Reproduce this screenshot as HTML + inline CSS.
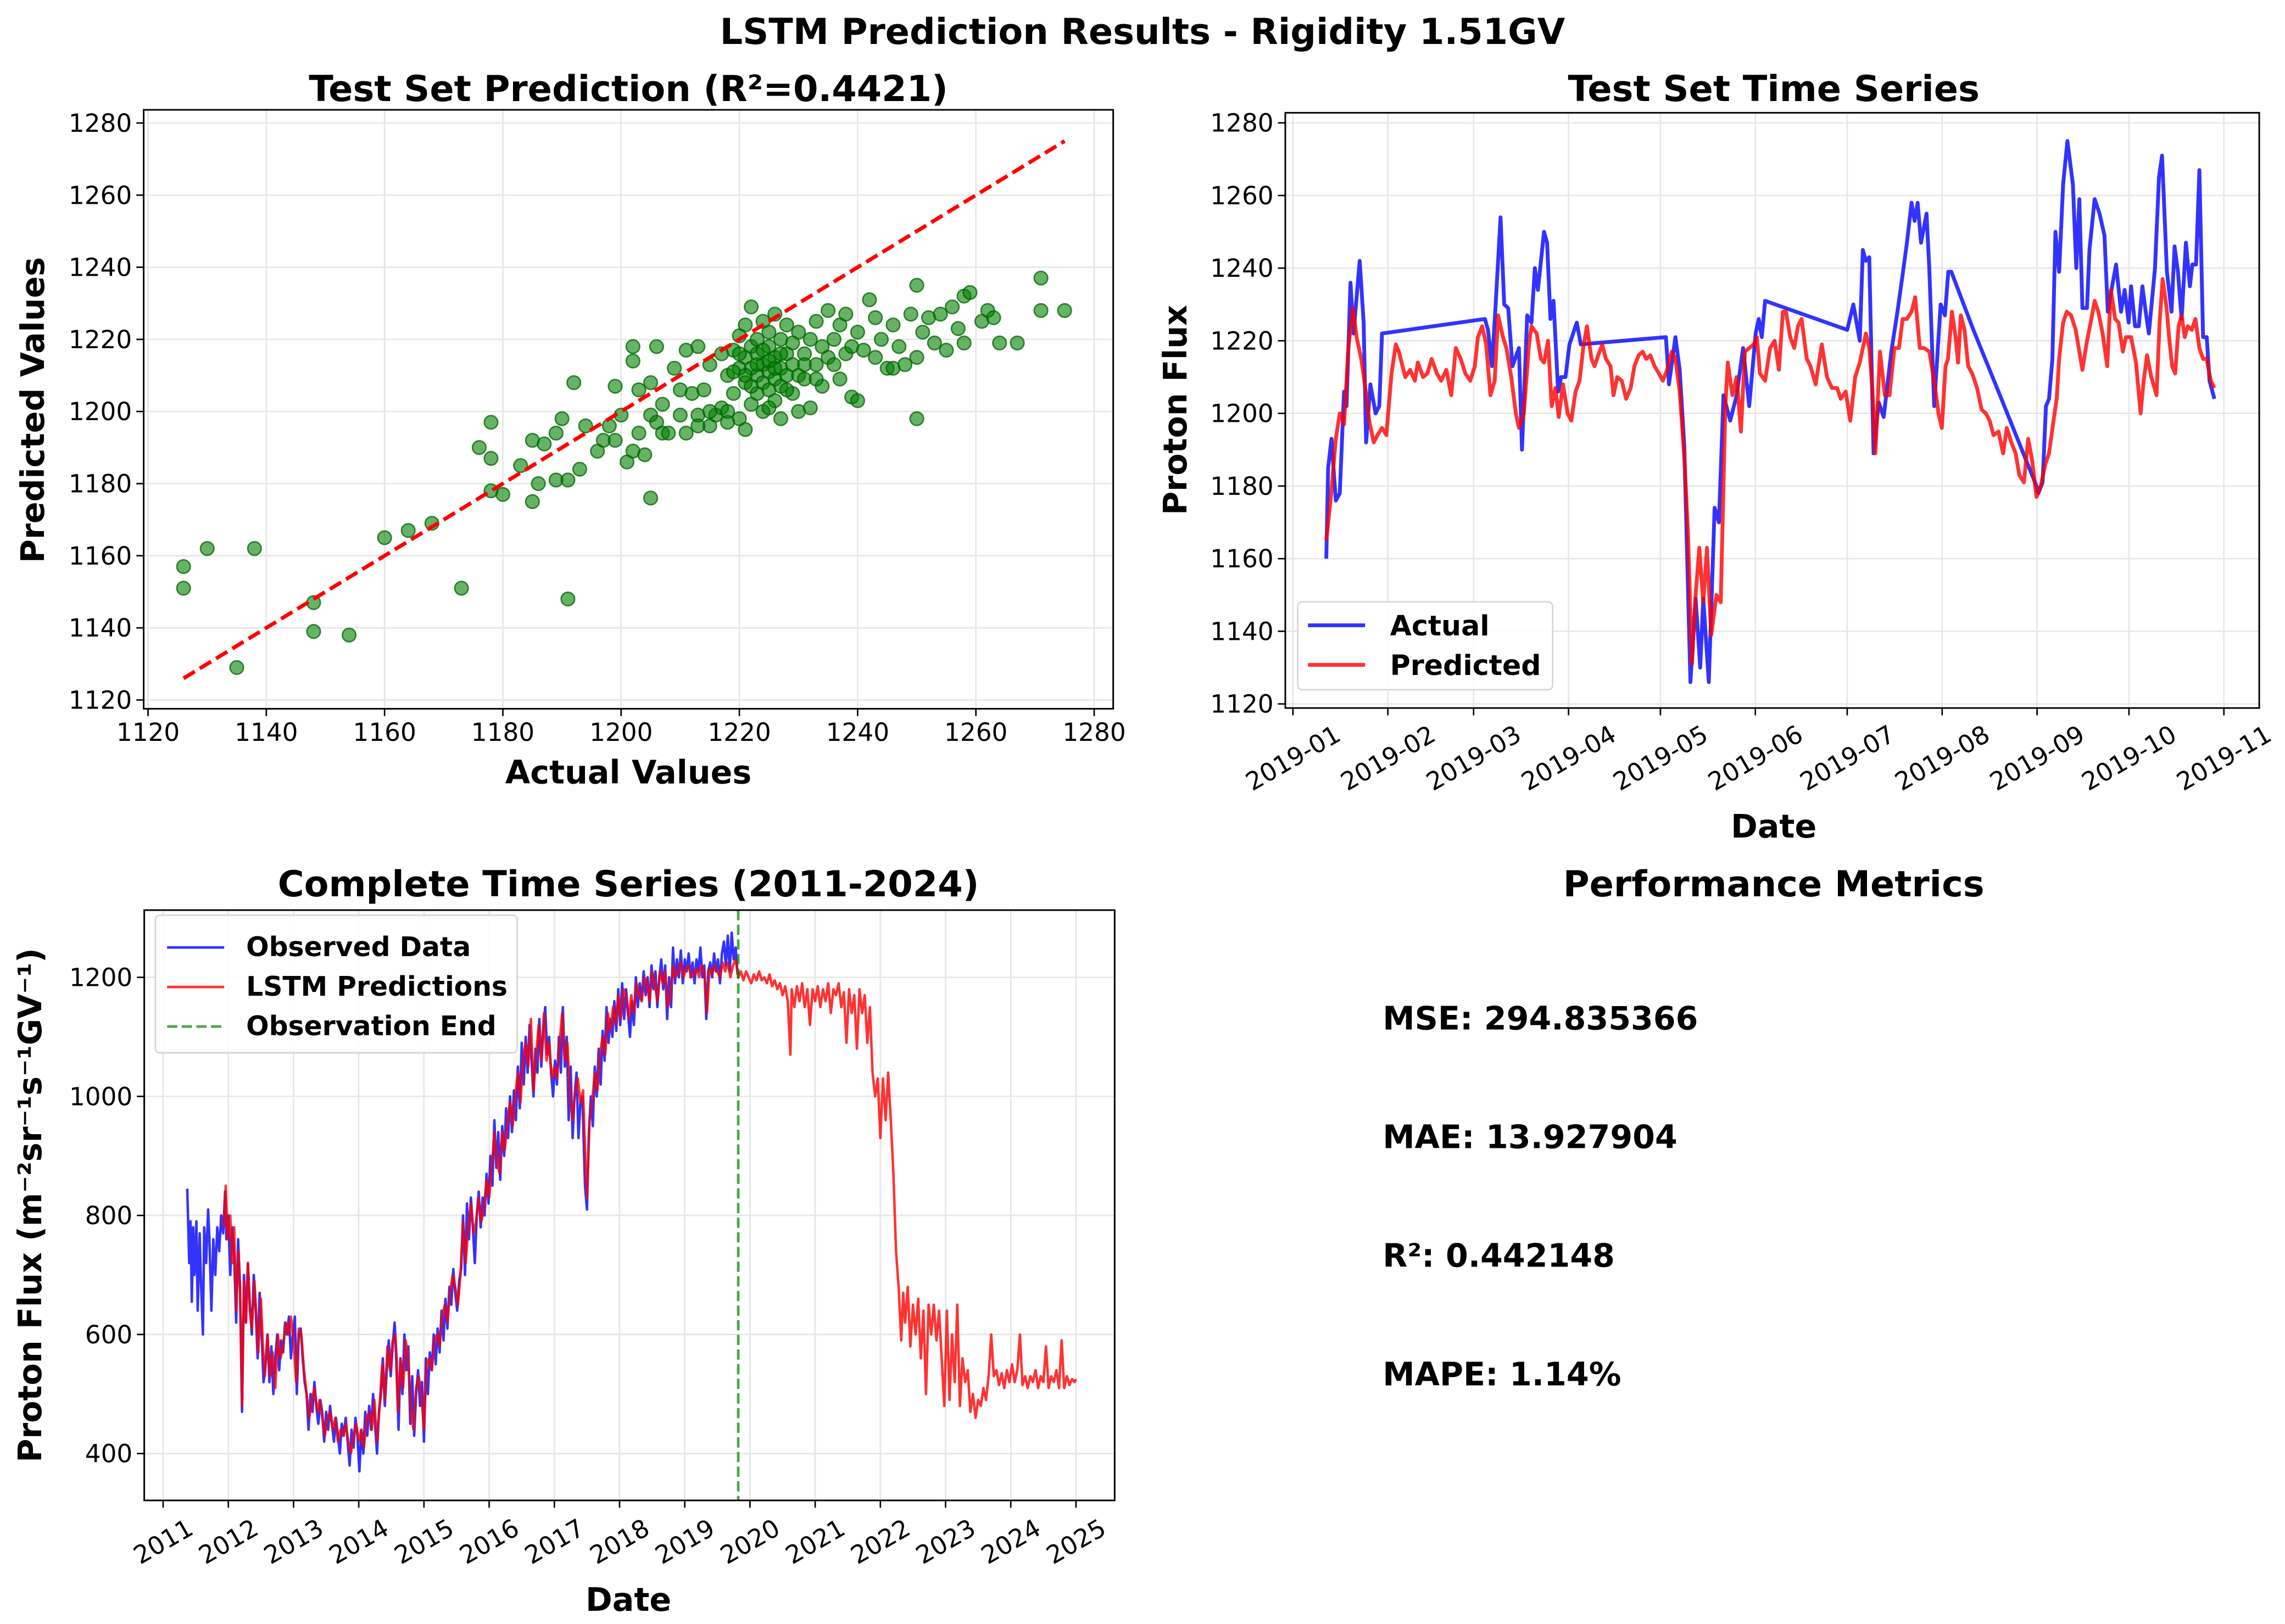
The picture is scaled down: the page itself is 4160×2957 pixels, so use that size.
<!DOCTYPE html>
<html><head><meta charset="utf-8"><style>
html,body{margin:0;padding:0;background:#fff;}
svg{display:block;font-family:"DejaVu Sans","Liberation Sans",sans-serif;}
</style></head><body>
<svg id="fig" width="4160" height="2957" viewBox="0 0 1560 1109" xmlns="http://www.w3.org/2000/svg">
<rect width="1560" height="1109" fill="#fff"/>
<text x="780" y="30" text-anchor="middle" font-size="24.5" font-weight="bold">LSTM Prediction Results - Rigidity 1.51GV</text>
<g id="p1"></g>
<g id="p2"></g>
<g id="p3"></g>
<g id="p4">
<text x="1211" y="612" text-anchor="middle" font-size="24.5" font-weight="bold">Performance Metrics</text>
<text x="944" y="703" font-size="22" font-weight="bold">MSE: 294.835366</text>
<text x="944" y="784" font-size="22" font-weight="bold">MAE: 13.927904</text>
<text x="944" y="865" font-size="22" font-weight="bold">R²: 0.442148</text>
<text x="944" y="946" font-size="22" font-weight="bold">MAPE: 1.14%</text>
</g>
</svg>
<script>
// ---------- Scatter data ----------
const scatterActual = [1126,1126,1130,1135,1138,1148,1148,1154,1160,1164,1168,1173,1176,1178,1178,1178,1180,1183,1185,1185,1186,1187,1189,1189,1190,1191,1191,1192,1193,1194,1196,1197,1198,1199,1199,1200,1201,1202,1202,1202,1203,1203,1204,1205,1205,1205,1206,1206,1207,1207,1208,1209,1210,1210,1211,1211,1212,1213,1213,1214,1215,1215,1216,1217,1217,1218,1218,1219,1219,1220,1220,1220,1221,1221,1221,1221,1222,1222,1222,1222,1223,1223,1223,1223,1224,1224,1224,1224,1225,1225,1225,1225,1226,1226,1226,1226,1227,1227,1227,1227,1228,1228,1228,1229,1229,1229,1230,1230,1230,1231,1231,1232,1232,1233,1233,1234,1234,1235,1235,1236,1237,1237,1238,1238,1239,1239,1240,1240,1241,1242,1243,1243,1244,1245,1246,1246,1247,1248,1249,1250,1250,1250,1251,1252,1253,1254,1255,1256,1257,1258,1258,1259,1261,1262,1263,1264,1267,1271,1271,1275,1220,1221,1222,1223,1219,1224,1225,1226,1227,1228,1231,1233,1236,1225,1213,1215,1218];
const scatterPred = [1157,1151,1162,1129,1162,1147,1139,1138,1165,1167,1169,1151,1190,1197,1187,1178,1177,1185,1192,1175,1180,1191,1194,1181,1198,1148,1181,1208,1184,1196,1189,1192,1196,1192,1207,1199,1186,1189,1218,1214,1194,1206,1188,1199,1176,1208,1197,1218,1194,1202,1194,1212,1206,1199,1217,1194,1205,1218,1199,1206,1213,1196,1199,1216,1201,1200,1210,1217,1205,1221,1198,1212,1208,1215,1224,1195,1202,1212,1218,1229,1205,1210,1216,1220,1208,1213,1200,1225,1206,1211,1218,1222,1203,1209,1215,1227,1207,1212,1220,1198,1210,1216,1224,1205,1213,1219,1200,1210,1222,1216,1209,1201,1220,1213,1225,1207,1218,1215,1228,1220,1209,1224,1216,1227,1204,1218,1222,1203,1217,1231,1215,1226,1220,1212,1212,1224,1218,1213,1227,1198,1235,1215,1222,1226,1219,1227,1217,1229,1223,1219,1232,1233,1225,1228,1226,1219,1219,1237,1228,1228,1216,1210,1207,1213,1211,1217,1214,1212,1216,1206,1213,1209,1213,1201,1196,1200,1197];
const scatterXTicks = [1120,1140,1160,1180,1200,1220,1240,1260,1280];
const scatterYTicks = [1120,1140,1160,1180,1200,1220,1240,1260,1280];

// ---------- Test set time series (day of 2019, value) ----------
const actualDays = [10.9,11.5,12.6,14,15.3,16.7,17.5,18.8,19.8,21.8,23.1,23.9,25.3,27,28.2,29.1,62.7,63.7,65,66.2,67.8,69,70.3,71.7,73.8,74.8,76.5,77.9,79,80,82,83,84.1,85.1,86.6,87.6,89,90.3,92.7,94,121.8,122.8,124.9,126.3,127.8,129.8,131.5,133,134,135.8,137.7,139.1,140.6,142.8,144.9,147,149,151.1,152.1,153.1,154.2,181,183,185.1,186.1,187.1,188.2,189.6,191.3,192.9,195.4,197.4,198.9,200.5,202,203,204,205.1,206.9,207.8,209.4,211.5,212.9,214,215,222.2,230.4,236.6,242.8,243.4,244.8,245.9,246.9,248,249,250.2,251.5,252.9,254.7,255.8,256.8,257.8,259.3,260.1,261.8,263.4,265,266.1,267.5,268.8,270.4,271.6,272.9,273.7,275,276.2,277.4,278.3,279.5,281.5,282.8,283.8,285.4,286.9,287.9,289,290.2,291.6,292.9,293.7,294.9,296,297.2,298.4,299.3,300.9];
const actualVals = [1160,1185,1193,1176,1178,1206,1202,1236,1222,1242,1225,1192,1208,1200,1202,1222,1226,1223,1213,1230,1254,1230,1229,1213,1218,1190,1227,1225,1240,1234,1250,1247,1226,1231,1206,1210,1210,1219,1225,1219,1221,1208,1221,1212,1191,1126,1149,1130,1149,1126,1174,1170,1205,1198,1205,1218,1202,1222,1226,1221,1231,1223,1230,1220,1245,1242,1243,1189,1203,1199,1217,1228,1237,1247,1258,1253,1258,1247,1255,1240,1202,1230,1227,1239,1239,1223,1206,1193,1180,1178,1181,1202,1204,1215,1250,1239,1263,1275,1263,1240,1259,1229,1229,1245,1259,1255,1249,1228,1235,1241,1228,1234,1225,1235,1224,1224,1235,1229,1222,1240,1265,1271,1239,1228,1246,1239,1226,1247,1235,1241,1241,1267,1221,1221,1209,1204];
const predDays = [10.9,12.4,14,15.3,16.7,18.1,19.6,20.8,22.3,23.5,24.9,26.4,27.6,29.1,30.5,32.2,33.6,34.6,36.7,38.3,39.8,40.8,42.5,43.9,45.3,47,48.4,50.1,51.7,53.2,54.8,56.3,57.9,59.4,60.4,61.8,63.1,64.5,65.9,67,68.6,69.7,71.3,72.8,73.8,75.4,77.1,77.9,79.6,81,82,83.3,84.5,85.7,86.8,88.2,89.7,90.9,92.3,93.6,94.8,96,97.5,98.5,99.7,101,102.2,103.7,104.7,105.9,107.4,108.8,110.3,111.5,112.9,114.2,115.4,116.7,118.1,119.5,120.8,122.2,123.7,124.9,126.3,127.8,129,130.3,131.5,132.7,134,135.2,136.6,138.3,139.7,141.2,142,143.5,144.9,146.3,147.6,149,150.5,151.5,152.5,154.2,155.8,157.3,158.7,160,161,162.4,163.7,164.9,166.1,167.8,169,170.7,172.7,174.4,176,177.7,178.9,180.5,182,183.6,185.1,186.1,187.1,188.2,189.2,190.2,191.7,193.3,194.8,196.4,197.9,199.1,200.5,202,203.2,204.7,206.1,207.8,209.4,210.8,211.9,213.1,213.9,215.2,216.4,217.2,218.1,219.3,220.5,221.8,223.4,224.9,226.3,227.5,228.8,230.4,231.9,233.1,234.6,236,237.2,238.7,240.1,241.4,242.8,244.2,245.7,246.9,248.2,249.4,250.2,251.5,252.7,254.1,255.6,256.8,257.8,259.3,260.5,261.8,263,264.4,265.9,267.1,268.5,269.6,271,272,273.7,275.3,276.8,277.8,278.9,280.3,282,283,284,285.3,286.1,287.1,288.1,289.2,290.2,291.2,292.2,293.5,294.7,296,297.2,298.4,299.7,300.9];
const predVals = [1165,1177,1193,1200,1197,1218,1229,1221,1215,1208,1198,1192,1194,1196,1194,1211,1219,1217,1210,1212,1209,1214,1210,1211,1215,1211,1209,1212,1205,1218,1215,1211,1209,1213,1221,1224,1219,1205,1209,1227,1221,1218,1210,1200,1196,1200,1219,1224,1222,1215,1214,1220,1202,1207,1199,1208,1200,1198,1206,1209,1218,1224,1215,1213,1216,1219,1215,1213,1205,1210,1209,1204,1207,1213,1216,1217,1215,1216,1213,1211,1209,1212,1217,1215,1206,1188,1167,1131,1150,1163,1148,1163,1139,1150,1148,1202,1214,1205,1210,1195,1217,1218,1219,1221,1211,1209,1218,1220,1212,1228,1228,1221,1218,1224,1226,1215,1213,1208,1219,1210,1207,1207,1204,1206,1198,1210,1214,1218,1222,1218,1207,1189,1217,1205,1205,1218,1218,1226,1226,1228,1232,1218,1218,1217,1209,1200,1196,1213,1215,1228,1221,1214,1227,1223,1213,1211,1207,1201,1200,1198,1194,1195,1189,1196,1192,1189,1183,1181,1193,1187,1177,1180,1186,1189,1197,1204,1215,1225,1228,1227,1223,1217,1212,1220,1225,1231,1228,1222,1213,1234,1226,1225,1217,1221,1221,1214,1200,1209,1216,1210,1205,1225,1237,1229,1221,1213,1211,1224,1227,1221,1224,1223,1226,1218,1215,1215,1209,1207];
const monthTicks = [0,31,59,90,120,151,181,212,243,273,304];
const monthLabels = ["2019-01","2019-02","2019-03","2019-04","2019-05","2019-06","2019-07","2019-08","2019-09","2019-10","2019-11"];

// ---------- Complete time series ----------
const obsYears = [2011.37,2011.40,2011.42,2011.44,2011.46,2011.48,2011.51,2011.53,2011.56,2011.58,2011.61,2011.63,2011.66,2011.69,2011.71,2011.74,2011.77,2011.80,2011.83,2011.86,2011.89,2011.92,2011.95,2011.97,2012.00,2012.03,2012.06,2012.09,2012.12,2012.15,2012.18,2012.21,2012.24,2012.27,2012.30,2012.33,2012.36,2012.39,2012.42,2012.45,2012.48,2012.51,2012.54,2012.57,2012.60,2012.63,2012.66,2012.69,2012.72,2012.75,2012.78,2012.81,2012.84,2012.87,2012.90,2012.93,2012.96,2012.99,2013.02,2013.05,2013.08,2013.11,2013.14,2013.17,2013.20,2013.23,2013.26,2013.29,2013.32,2013.35,2013.38,2013.41,2013.44,2013.47,2013.50,2013.53,2013.56,2013.59,2013.62,2013.65,2013.68,2013.71,2013.74,2013.77,2013.80,2013.83,2013.86,2013.89,2013.92,2013.95,2013.98,2014.01,2014.04,2014.07,2014.10,2014.13,2014.16,2014.19,2014.22,2014.25,2014.28,2014.31,2014.34,2014.37,2014.40,2014.43,2014.46,2014.49,2014.52,2014.55,2014.58,2014.61,2014.64,2014.67,2014.70,2014.73,2014.76,2014.79,2014.82,2014.85,2014.88,2014.91,2014.94,2014.97,2015.00,2015.03,2015.06,2015.09,2015.12,2015.15,2015.18,2015.21,2015.24,2015.27,2015.30,2015.33,2015.36,2015.39,2015.42,2015.45,2015.48,2015.51,2015.54,2015.57,2015.60,2015.63,2015.66,2015.69,2015.72,2015.75,2015.78,2015.81,2015.84,2015.87,2015.90,2015.93,2015.96,2015.99,2016.02,2016.05,2016.08,2016.11,2016.14,2016.17,2016.20,2016.23,2016.26,2016.29,2016.32,2016.35,2016.38,2016.41,2016.44,2016.47,2016.50,2016.53,2016.56,2016.59,2016.62,2016.65,2016.68,2016.71,2016.74,2016.77,2016.80,2016.83,2016.86,2016.89,2016.92,2016.95,2016.98,2017.01,2017.04,2017.07,2017.10,2017.13,2017.16,2017.19,2017.22,2017.25,2017.28,2017.31,2017.34,2017.37,2017.40,2017.43,2017.47,2017.50,2017.53,2017.56,2017.59,2017.62,2017.65,2017.68,2017.71,2017.74,2017.77,2017.80,2017.83,2017.86,2017.89,2017.92,2017.95,2017.98,2018.01,2018.04,2018.07,2018.10,2018.13,2018.16,2018.19,2018.22,2018.25,2018.28,2018.31,2018.34,2018.37,2018.40,2018.43,2018.46,2018.49,2018.52,2018.55,2018.58,2018.61,2018.64,2018.67,2018.70,2018.73,2018.76,2018.79,2018.82,2018.85,2018.88,2018.91,2018.94,2018.97,2019.00,2019.03,2019.06,2019.09,2019.12,2019.15,2019.18,2019.21,2019.24,2019.27,2019.30,2019.33,2019.36,2019.39,2019.42,2019.45,2019.48,2019.51,2019.54,2019.57,2019.60,2019.63,2019.66,2019.69,2019.72,2019.75,2019.78,2019.81];
const obsVals = [845,720,790,655,780,700,790,640,770,690,600,780,720,810,760,640,760,700,780,740,800,770,840,760,800,700,780,730,620,760,680,470,700,620,720,650,600,700,640,560,670,600,520,550,600,520,580,500,560,600,540,590,570,620,600,630,560,600,630,500,600,610,560,520,500,440,500,470,520,480,450,490,470,420,470,440,480,450,420,460,430,400,450,430,460,420,380,440,410,460,430,370,440,400,470,430,480,440,500,450,400,470,500,560,480,540,590,530,580,620,560,440,560,500,600,540,580,450,530,430,500,540,480,520,420,560,500,570,540,600,550,610,570,640,590,660,610,680,650,710,670,640,690,710,800,700,820,760,830,780,720,800,840,780,830,800,870,820,900,850,960,880,940,860,950,900,980,930,1000,940,1010,960,1050,980,1090,1020,1100,1040,1120,1060,1000,1080,1040,1130,1050,1110,1150,1070,1100,1040,1000,1060,1020,1100,1040,1150,1050,1100,960,1050,930,1000,1040,930,990,1000,850,810,940,1000,950,1050,1000,1080,1020,1110,1060,1150,1090,1130,1100,1160,1110,1180,1120,1190,1130,1180,1140,1100,1160,1120,1200,1150,1190,1160,1210,1170,1200,1150,1220,1180,1210,1150,1200,1230,1180,1220,1130,1200,1150,1250,1190,1230,1200,1245,1190,1230,1210,1240,1200,1225,1190,1230,1210,1250,1200,1220,1130,1210,1225,1200,1240,1210,1230,1190,1240,1260,1220,1270,1210,1275,1230,1250,1205];
const lstmYears = [2011.93,2011.96,2011.99,2012.03,2012.06,2012.09,2012.12,2012.15,2012.18,2012.21,2012.24,2012.27,2012.30,2012.33,2012.36,2012.40,2012.43,2012.46,2012.50,2012.53,2012.56,2012.60,2012.64,2012.68,2012.72,2012.76,2012.80,2012.84,2012.88,2012.92,2012.96,2013.00,2013.04,2013.08,2013.12,2013.16,2013.20,2013.24,2013.28,2013.32,2013.36,2013.40,2013.44,2013.48,2013.52,2013.56,2013.60,2013.64,2013.68,2013.72,2013.76,2013.80,2013.84,2013.88,2013.92,2013.96,2014.00,2014.04,2014.08,2014.12,2014.16,2014.20,2014.24,2014.28,2014.32,2014.36,2014.40,2014.44,2014.48,2014.52,2014.56,2014.60,2014.64,2014.68,2014.72,2014.76,2014.80,2014.84,2014.88,2014.92,2014.96,2015.00,2015.04,2015.08,2015.12,2015.16,2015.20,2015.24,2015.28,2015.32,2015.36,2015.40,2015.44,2015.48,2015.52,2015.56,2015.60,2015.64,2015.68,2015.72,2015.76,2015.80,2015.84,2015.88,2015.92,2015.96,2016.00,2016.04,2016.08,2016.12,2016.16,2016.20,2016.24,2016.28,2016.32,2016.36,2016.40,2016.44,2016.48,2016.52,2016.56,2016.60,2016.64,2016.68,2016.72,2016.76,2016.80,2016.84,2016.88,2016.92,2016.96,2017.00,2017.04,2017.08,2017.12,2017.16,2017.20,2017.24,2017.28,2017.32,2017.36,2017.40,2017.44,2017.48,2017.50,2017.54,2017.58,2017.62,2017.66,2017.70,2017.74,2017.78,2017.82,2017.86,2017.90,2017.94,2017.98,2018.02,2018.06,2018.10,2018.14,2018.18,2018.22,2018.26,2018.30,2018.34,2018.38,2018.42,2018.46,2018.50,2018.54,2018.58,2018.62,2018.66,2018.70,2018.74,2018.78,2018.82,2018.86,2018.90,2018.94,2018.98,2019.02,2019.06,2019.10,2019.14,2019.18,2019.22,2019.26,2019.30,2019.34,2019.38,2019.42,2019.46,2019.50,2019.54,2019.58,2019.62,2019.66,2019.70,2019.74,2019.78,2019.82,2019.86,2019.90,2019.94,2019.98,2020.02,2020.06,2020.10,2020.14,2020.18,2020.22,2020.26,2020.30,2020.34,2020.38,2020.42,2020.46,2020.50,2020.54,2020.58,2020.62,2020.64,2020.68,2020.72,2020.76,2020.80,2020.84,2020.88,2020.92,2020.96,2021.00,2021.04,2021.08,2021.12,2021.16,2021.20,2021.24,2021.28,2021.32,2021.36,2021.40,2021.44,2021.48,2021.52,2021.56,2021.60,2021.64,2021.68,2021.72,2021.76,2021.80,2021.84,2021.88,2021.92,2021.96,2022.00,2022.04,2022.08,2022.12,2022.16,2022.20,2022.24,2022.28,2022.32,2022.35,2022.38,2022.42,2022.46,2022.50,2022.54,2022.58,2022.62,2022.66,2022.70,2022.74,2022.78,2022.82,2022.86,2022.90,2022.94,2022.98,2023.02,2023.06,2023.10,2023.14,2023.18,2023.22,2023.26,2023.30,2023.34,2023.38,2023.42,2023.46,2023.50,2023.54,2023.58,2023.62,2023.66,2023.70,2023.74,2023.78,2023.82,2023.86,2023.90,2023.94,2023.98,2024.02,2024.06,2024.10,2024.14,2024.18,2024.22,2024.26,2024.30,2024.34,2024.38,2024.42,2024.46,2024.50,2024.54,2024.58,2024.62,2024.66,2024.70,2024.74,2024.78,2024.82,2024.86,2024.90,2024.94,2024.98,2025.00];
const lstmVals = [780,850,760,800,720,780,640,740,670,480,690,620,720,640,610,690,630,570,660,580,530,600,530,570,510,600,560,580,620,600,630,590,520,610,600,540,500,460,490,510,470,490,460,430,460,470,440,460,420,440,430,450,420,400,430,450,420,440,410,460,470,440,490,420,480,550,490,580,540,590,600,470,560,510,590,560,470,440,510,530,500,440,550,560,540,590,600,580,630,650,620,670,700,680,650,700,790,720,780,820,770,790,830,790,810,860,830,880,940,890,870,940,910,960,990,950,1000,1040,990,1060,1090,1050,1130,1010,1070,1120,1060,1140,1060,1090,1030,1050,1030,1090,1140,1060,1090,1000,960,1010,1030,990,1010,880,830,960,990,1040,1010,1070,1100,1070,1140,1110,1150,1120,1170,1130,1180,1170,1130,1170,1140,1190,1170,1160,1200,1190,1160,1210,1190,1160,1210,1190,1210,1150,1170,1220,1200,1210,1225,1200,1215,1220,1200,1205,1215,1200,1220,1210,1140,1215,1205,1220,1210,1200,1225,1210,1225,1200,1220,1230,1200,1210,1195,1210,1200,1190,1205,1195,1210,1195,1200,1190,1205,1185,1195,1180,1190,1170,1185,1160,1070,1180,1150,1185,1160,1190,1150,1180,1120,1180,1160,1185,1150,1180,1160,1190,1140,1180,1170,1190,1150,1175,1090,1180,1140,1170,1080,1180,1140,1170,1090,1150,1040,1000,1030,930,1030,960,1040,960,870,740,680,590,670,620,680,580,650,600,660,560,640,500,650,600,650,590,640,560,480,640,490,600,520,650,480,560,520,540,470,500,460,490,480,510,490,530,600,530,540,515,535,510,540,520,550,520,540,600,515,530,510,530,520,540,510,530,520,580,510,530,520,540,510,590,510,530,515,525,520,525];
const yearTicks = [2011,2012,2013,2014,2015,2016,2017,2018,2019,2020,2021,2022,2023,2024,2025];
const fluxTicks = [400,600,800,1000,1200];
const observationEnd = [2019.82];

const NS = "http://www.w3.org/2000/svg";
function mk(parent, tag, attrs, text){
  const e = document.createElementNS(NS, tag);
  for (const k in attrs) e.setAttribute(k, attrs[k]);
  if (text !== undefined) e.textContent = text;
  parent.appendChild(e);
  return e;
}
const GRID = "#e6e6e6";
const TICKFS = 17, LABFS = 22, TITLEFS = 24.5;

function frame(g, L, T, R, B){
  const f = mk(g, "rect", {x:L, y:T, width:R-L, height:B-T, fill:"none", stroke:"#000", "stroke-width":1.1});
  
  
}

// ===== Panel 1: scatter =====
(function(){
  const g = document.getElementById("p1");
  const L=98, T=75, R=760, B=484;
  const sx = v => 101 + (v-1120)*4.0375;
  const sy = v => 478 - (v-1120)*2.4625;
  scatterXTicks.forEach(t=>{
    const l = mk(g,"line",{x1:sx(t),x2:sx(t),y1:T,y2:B,stroke:GRID,"stroke-width":1});
    
    
    mk(g,"line",{x1:sx(t),x2:sx(t),y1:B,y2:B+5,stroke:"#000","stroke-width":1});
    const tx = mk(g,"text",{x:sx(t),y:B+22,"text-anchor":"middle","font-size":TICKFS},String(t));
    
    
  });
  scatterYTicks.forEach(t=>{
    const l = mk(g,"line",{x1:L,x2:R,y1:sy(t),y2:sy(t),stroke:GRID,"stroke-width":1});
    
    
    mk(g,"line",{x1:L-5,x2:L,y1:sy(t),y2:sy(t),stroke:"#000","stroke-width":1});
    const tx = mk(g,"text",{x:L-8,y:sy(t)+6,"text-anchor":"end","font-size":TICKFS},String(t));
    
    
  });
  scatterActual.forEach((a,i)=>{
    const c = mk(g,"circle",{cx:sx(a),cy:sy(scatterPred[i]),r:4.6,fill:"rgba(0,128,0,0.6)",stroke:"rgba(0,100,0,0.75)","stroke-width":1});
    
    
  });
  const mn = Math.min(...scatterActual), mx = Math.max(...scatterActual);
  const d = mk(g,"line",{x1:sx(mn),y1:sy(mn),x2:sx(mx),y2:sy(mx),stroke:"#ff0000","stroke-width":2.6,"stroke-dasharray":"9,4"});
  
  
  frame(g,L,T,R,B);
  const t = mk(g,"text",{x:429,y:69,"text-anchor":"middle","font-size":TITLEFS,"font-weight":"bold"},"Test Set Prediction (R²=0.4421)");
  
  
  const xl = mk(g,"text",{x:429,y:535,"text-anchor":"middle","font-size":LABFS,"font-weight":"bold"},"Actual Values");
  
  
  const yl = mk(g,"text",{x:0,y:0,transform:"translate(30,280) rotate(-90)","text-anchor":"middle","font-size":LABFS,"font-weight":"bold"},"Predicted Values");
  
  
})();

// ===== Panel 2: test time series =====
(function(){
  const g = document.getElementById("p2");
  const L=877.5, T=77, R=1542.5, B=483.5;
  const sx = d => 882.7 + d*2.091;
  const sy = v => 83.9 + (1280-v)*2.48;
  monthTicks.forEach((m,i)=>{
    const l = mk(g,"line",{x1:sx(m),x2:sx(m),y1:T,y2:B,stroke:GRID,"stroke-width":1});
    
    
    mk(g,"line",{x1:sx(m),x2:sx(m),y1:B,y2:B+5,stroke:"#000","stroke-width":1});
    const tx = mk(g,"text",{x:0,y:6,transform:`translate(${sx(m)},${B+34}) rotate(-30)`,"text-anchor":"middle","font-size":TICKFS},monthLabels[i]);
    
    
  });
  scatterYTicks.forEach(t=>{
    const l = mk(g,"line",{x1:L,x2:R,y1:sy(t),y2:sy(t),stroke:GRID,"stroke-width":1});
    
    
    mk(g,"line",{x1:L-5,x2:L,y1:sy(t),y2:sy(t),stroke:"#000","stroke-width":1});
    const tx = mk(g,"text",{x:L-8,y:sy(t)+6,"text-anchor":"end","font-size":TICKFS},String(t));
    
    
  });
  const pa = mk(g,"polyline",{points:actualDays.map((d,i)=>sx(d)+","+sy(actualVals[i])).join(" "),fill:"none",stroke:"rgba(0,0,255,0.8)","stroke-width":2.6,"stroke-linejoin":"round"});
  
  
  const pp = mk(g,"polyline",{points:predDays.map((d,i)=>sx(d)+","+sy(predVals[i])).join(" "),fill:"none",stroke:"rgba(255,0,0,0.8)","stroke-width":2.6,"stroke-linejoin":"round"});
  
  
  frame(g,L,T,R,B);
  const lg = mk(g,"g",{});
  
  
  mk(lg,"rect",{x:886,y:411,width:174,height:60,rx:3,fill:"rgba(255,255,255,0.85)",stroke:"#d5d5d5","stroke-width":1});
  mk(lg,"line",{x1:893,x2:932,y1:427,y2:427,stroke:"rgba(0,0,255,0.8)","stroke-width":2.6});
  const e1 = mk(lg,"text",{x:949,y:434,"font-size":19,"font-weight":"bold"},"Actual");
  
  
  mk(lg,"line",{x1:893,x2:932,y1:454,y2:454,stroke:"rgba(255,0,0,0.8)","stroke-width":2.6});
  const e2 = mk(lg,"text",{x:949,y:461,"font-size":19,"font-weight":"bold"},"Predicted");
  
  
  const t = mk(g,"text",{x:1211,y:69,"text-anchor":"middle","font-size":TITLEFS,"font-weight":"bold"},"Test Set Time Series");
  
  
  const xl = mk(g,"text",{x:1211,y:572,"text-anchor":"middle","font-size":LABFS,"font-weight":"bold"},"Date");
  
  
  const yl = mk(g,"text",{x:0,y:0,transform:"translate(810,280) rotate(-90)","text-anchor":"middle","font-size":LABFS,"font-weight":"bold"},"Proton Flux");
  
  
})();

// ===== Panel 3: complete series =====
(function(){
  const g = document.getElementById("p3");
  const L=98.4, T=621.5, R=761, B=1024.6;
  const sx = y => 111.3 + (y-2011)*44.52;
  const sy = v => 667.4 + (1200-v)*0.4065;
  yearTicks.forEach(t=>{
    const l = mk(g,"line",{x1:sx(t),x2:sx(t),y1:T,y2:B,stroke:GRID,"stroke-width":1});
    
    
    mk(g,"line",{x1:sx(t),x2:sx(t),y1:B,y2:B+5,stroke:"#000","stroke-width":1});
    const tx = mk(g,"text",{x:0,y:6,transform:`translate(${sx(t)},${B+28}) rotate(-30)`,"text-anchor":"middle","font-size":TICKFS},String(t));
    
    
  });
  fluxTicks.forEach(t=>{
    const l = mk(g,"line",{x1:L,x2:R,y1:sy(t),y2:sy(t),stroke:GRID,"stroke-width":1});
    
    
    mk(g,"line",{x1:L-5,x2:L,y1:sy(t),y2:sy(t),stroke:"#000","stroke-width":1});
    const tx = mk(g,"text",{x:L-8,y:sy(t)+6,"text-anchor":"end","font-size":TICKFS},String(t));
    
    
  });
  const po = mk(g,"polyline",{points:obsYears.map((y,i)=>sx(y)+","+sy(obsVals[i])).join(" "),fill:"none",stroke:"rgba(0,0,255,0.8)","stroke-width":1.7,"stroke-linejoin":"round"});
  
  
  const pl = mk(g,"polyline",{points:lstmYears.map((y,i)=>sx(y)+","+sy(lstmVals[i])).join(" "),fill:"none",stroke:"rgba(255,0,0,0.8)","stroke-width":1.7,"stroke-linejoin":"round"});
  
  
  const vl = mk(g,"line",{x1:sx(observationEnd[0]),x2:sx(observationEnd[0]),y1:T,y2:B,stroke:"rgba(0,128,0,0.7)","stroke-width":1.8,"stroke-dasharray":"7,3"});
  
  
  frame(g,L,T,R,B);
  const lg = mk(g,"g",{});
  
  
  mk(lg,"rect",{x:106,y:625,width:247,height:94,rx:3,fill:"rgba(255,255,255,0.85)",stroke:"#d5d5d5","stroke-width":1});
  mk(lg,"line",{x1:114,x2:153,y1:647,y2:647,stroke:"rgba(0,0,255,0.8)","stroke-width":1.8});
  const e1 = mk(lg,"text",{x:168,y:653,"font-size":18.3,"font-weight":"bold"},"Observed Data");
  
  
  mk(lg,"line",{x1:114,x2:153,y1:674,y2:674,stroke:"rgba(255,0,0,0.8)","stroke-width":1.8});
  const e2 = mk(lg,"text",{x:168,y:680,"font-size":18.3,"font-weight":"bold"},"LSTM Predictions");
  
  
  mk(lg,"line",{x1:114,x2:153,y1:701,y2:701,stroke:"rgba(0,128,0,0.7)","stroke-width":1.8,"stroke-dasharray":"7,3"});
  const e3 = mk(lg,"text",{x:168,y:707,"font-size":18.3,"font-weight":"bold"},"Observation End");
  
  
  const t = mk(g,"text",{x:429,y:612,"text-anchor":"middle","font-size":TITLEFS,"font-weight":"bold"},"Complete Time Series (2011-2024)");
  
  
  const xl = mk(g,"text",{x:429,y:1100,"text-anchor":"middle","font-size":LABFS,"font-weight":"bold"},"Date");
  
  
  const yl = mk(g,"text",{x:0,y:0,transform:"translate(28,823) rotate(-90)","text-anchor":"middle","font-size":LABFS,"font-weight":"bold"},"Proton Flux (m⁻²sr⁻¹s⁻¹GV⁻¹)");
  
  
})();
</script>
</body></html>
